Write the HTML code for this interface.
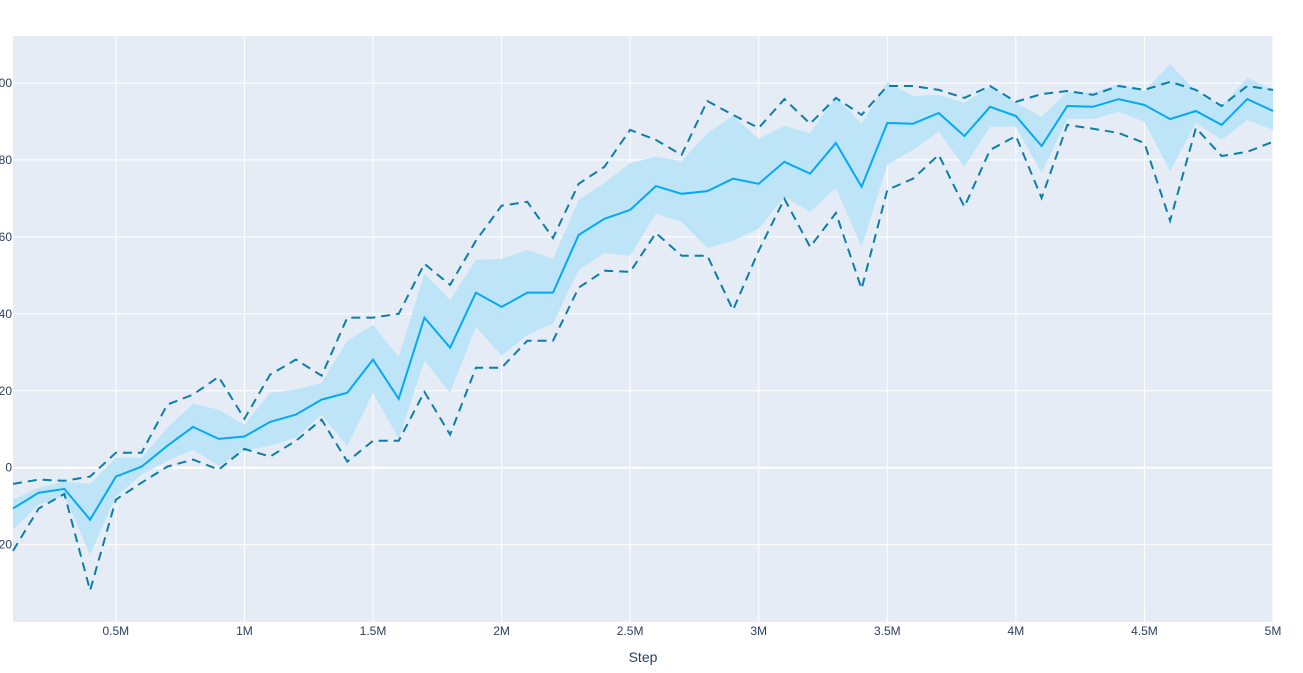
<!DOCTYPE html>
<html><head><meta charset="utf-8">
<style>
html,body{margin:0;padding:0;background:#fff;}
svg{display:block;font-family:"Liberation Sans",Arial,sans-serif;}
</style></head>
<body>
<svg id="chart" width="1303" height="673" viewBox="0 0 1303 673" xmlns="http://www.w3.org/2000/svg">
<rect x="13" y="36" width="1260" height="586" fill="#e5ecf6"/>
<g id="grid"></g>
<g id="marks"></g>
<g id="ticks"></g>
<text x="643" y="662" text-anchor="middle" font-size="14" fill="#2a3f5f">Step</text>
</svg>
<script>
const steps = [];
for (let i = 1; i <= 50; i++) steps.push(i * 0.1);
const meanValues = [-10.6,-6.5,-5.5,-13.5,-2.3,0.3,5.7,10.6,7.5,8.1,11.9,13.8,17.7,19.5,28.1,17.9,39.0,31.2,45.5,41.8,45.5,45.5,60.5,64.7,67.0,73.2,71.2,71.9,75.1,73.8,79.5,76.4,84.4,73.0,89.6,89.4,92.2,86.2,93.8,91.4,83.6,94.0,93.8,95.8,94.3,90.6,92.7,89.1,95.8,92.7];
const maxValues = [-4.2,-3.1,-3.4,-2.3,3.9,3.9,16.4,19.0,23.6,12.7,24.2,28.1,23.9,39.0,39.0,40.0,53.0,47.5,59.0,68.1,69.1,59.7,73.8,78.2,87.8,85.2,81.3,95.3,91.7,88.3,95.8,89.4,96.1,91.7,99.2,99.2,98.2,96.1,99.2,95.1,97.1,97.9,96.9,99.2,98.2,100.3,98.2,94.0,99.2,98.2];
const minValues = [-21.6,-10.6,-6.8,-31.9,-8.3,-3.9,0.3,2.1,-0.5,4.9,2.9,7.0,12.5,1.6,7.0,7.0,19.7,8.6,26.0,26.0,33.0,33.0,46.8,51.2,50.9,61.0,55.1,55.1,41.0,56.4,69.9,57.4,66.2,46.5,72.2,75.1,81.3,67.8,82.6,86.2,70.1,89.1,88.1,87.0,84.4,64.2,88.3,81.0,82.1,84.7];
const bandUpper = [-8.3,-5.2,-3.6,-4.2,2.6,2.6,10.4,16.6,15.1,11.2,19.5,20.3,22.1,33.0,37.1,28.8,50.4,43.6,54.0,54.3,56.6,54.3,69.6,74.0,79.2,80.8,79.7,87.0,91.4,85.5,88.8,87.0,96.4,89.4,100.3,96.6,96.9,94.8,99.0,94.8,91.2,97.7,97.4,99.7,97.9,104.9,97.9,94.0,101.3,98.2];
const bandLower = [-16.1,-9.6,-7.3,-22.6,-7.5,-1.8,1.8,4.7,0.5,4.4,5.7,7.8,13.8,5.5,19.5,7.5,27.8,19.5,36.6,29.1,34.5,37.4,51.4,55.8,55.1,66.0,63.9,57.1,59.0,62.1,70.4,66.5,72.7,57.4,78.7,82.6,87.3,78.2,88.6,88.6,76.6,90.6,90.6,92.5,89.9,77.1,89.6,85.2,90.4,87.8];
const xTicks = [0.5,1,1.5,2,2.5,3,3.5,4,4.5,5];
const xTickLabels = ["0.5M","1M","1.5M","2M","2.5M","3M","3.5M","4M","4.5M","5M"];
const yTicks = [-20,0,20,40,60,80,100];

const NS = "http://www.w3.org/2000/svg";
const X0 = 13, X1 = 1273, Y0 = 36, Y1 = 622;
const xMin = 0.1, xMax = 5, yMin = -40.1, yMax = 112.2;
function xs(v){ return X0 + (v - xMin) / (xMax - xMin) * (X1 - X0); }
function ys(v){ return Y1 - (v - yMin) / (yMax - yMin) * (Y1 - Y0); }
function mk(tag, attrs, parent){ const e = document.createElementNS(NS, tag); for (const k in attrs) e.setAttribute(k, attrs[k]); parent.appendChild(e); return e; }

const grid = document.getElementById('grid');
const ticks = document.getElementById('ticks');
const marks = document.getElementById('marks');

xTicks.forEach((t, i) => {
  const x = xs(t);
  const l = mk('line', {x1:x, x2:x, y1:Y0, y2:Y1, stroke:'#fff', 'stroke-width':1}, grid);
  
  
  const tx = mk('text', {x:x, y:635, 'text-anchor':'middle', 'font-size':12, fill:'#2a3f5f'}, ticks);
  tx.textContent = xTickLabels[i];
  
  
});
yTicks.forEach(t => {
  const y = ys(t);
  const l = mk('line', {x1:X0, x2:X1, y1:y, y2:y, stroke:'#fff', 'stroke-width': t === 0 ? 2 : 1}, grid);
  
  
  const tx = mk('text', {x:12, y:y + 4, 'text-anchor':'end', 'font-size':12, fill:'#2a3f5f'}, ticks);
  tx.textContent = t < 0 ? '\u2212' + Math.abs(t) : String(t);
  
  
});

function pts(arr){ return arr.map((v, i) => xs(steps[i]).toFixed(1) + ',' + ys(v).toFixed(1)); }
const bandPts = pts(bandUpper).concat(pts(bandLower).reverse());
const band = mk('polygon', {points: bandPts.join(' '), fill:'#bee5f7', stroke:'none'}, marks);



const maxL = mk('polyline', {points: pts(maxValues).join(' '), fill:'none', stroke:'#0b7eaa', 'stroke-width':2, 'stroke-dasharray':'9,6'}, marks);


const minL = mk('polyline', {points: pts(minValues).join(' '), fill:'none', stroke:'#0b7eaa', 'stroke-width':2, 'stroke-dasharray':'9,6'}, marks);


const meanL = mk('polyline', {points: pts(meanValues).join(' '), fill:'none', stroke:'#03a9f4', 'stroke-width':2}, marks);


</script>
</body></html>
